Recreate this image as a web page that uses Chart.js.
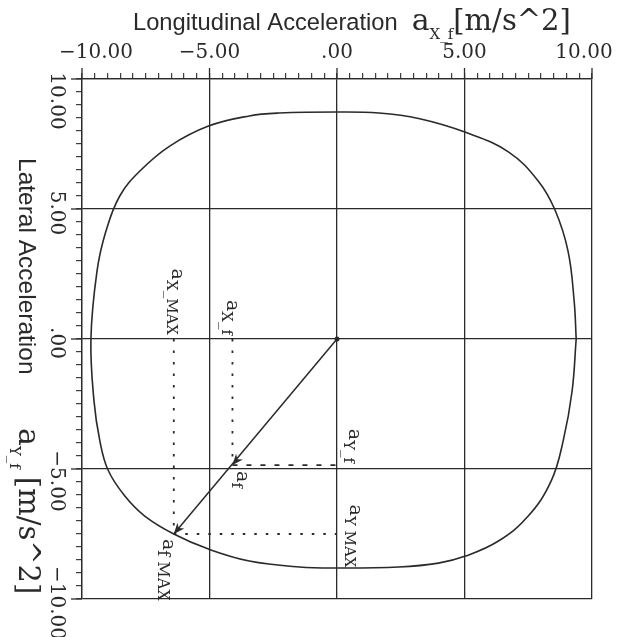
<!DOCTYPE html>
<html>
<head>
<meta charset="utf-8">
<script src="https://cdn.jsdelivr.net/npm/chart.js@4"></script>
<style>
  html, body { margin: 0; padding: 0; background: #ffffff; }
  #wrap { width: 627px; height: 637px; }
</style>
</head>
<body>
<div id="wrap"><canvas id="gg" width="627" height="637"></canvas></div>
<script>
// Axis ticks (labelled every 5 m/s^2, minor marks every 0.5)
const xTickValues = [-10, -5, 0, 5, 10];
const xTickLabels = ['\u221210.00', '\u22125.00', '.00', '5.00', '10.00'];
const yTickValues = [10, 5, 0, -5, -10];
const yTickLabels = ['10.00', '5.00', '.00', '\u22125.00', '\u221210.00'];

// Friction limit curve: longitudinal (x) and lateral (y) acceleration, m/s^2
const limitAx = [9.38, 9.30, 9.06, 8.55, 7.89, 6.72, 5.04, 3.20, 1.64, 0.00,
                 -2.27, -3.44, -5.04, -6.56, -7.73, -8.52, -9.06, -9.41, -9.65,
                 -9.53, -9.30, -8.98, -8.32, -7.54, -6.40, -5.04, -3.44, -1.48,
                 0.00, 2.42, 3.98, 5.04, 6.33, 7.50, 8.40, 8.87, 9.22, 9.38];
const limitAy = [0.00, 1.46, 3.38, 4.96, 6.08, 7.20, 7.95, 8.48, 8.69, 8.73,
                 8.69, 8.58, 8.19, 7.42, 6.46, 5.50, 4.15, 2.62, 0.00,
                 -2.38, -3.92, -5.04, -6.04, -6.81, -7.50, -8.08, -8.54, -8.77,
                 -8.81, -8.77, -8.62, -8.35, -7.77, -6.81, -5.46, -3.92, -2.00, 0.00];

// Acceleration vector a_f and its maximum a_f MAX on the limit curve
const accelF = [-4.1, -4.85];
const accelMax = [-6.4, -7.5];

const ink = '#2a2a2a';
const serif = '"DejaVu Serif", "Liberation Serif", serif';
const sans = '"Liberation Sans", Arial, sans-serif';

const limitPoints = limitAx.map((x, i) => ({ x, y: limitAy[i] }));

function isMajor(v) { return Math.abs(v / 5 - Math.round(v / 5)) < 1e-6; }

// Draws a run of text pieces (base text + subscripts), optionally rotated clockwise
function drawRich(ctx, parts, x, y, opts) {
  opts = opts || {};
  ctx.save();
  ctx.translate(x, y);
  if (opts.rotate) ctx.rotate(Math.PI / 2);
  ctx.fillStyle = opts.color || ink;
  ctx.textBaseline = 'alphabetic';
  ctx.textAlign = 'left';
  let total = 0;
  const widths = parts.map(p => { ctx.font = p.font; const w = ctx.measureText(p.t).width + (p.gap || 0); total += w; return w; });
  let cx = opts.align === 'center' ? -total / 2 : opts.align === 'right' ? -total : 0;
  parts.forEach((p, i) => {
    ctx.font = p.font;
    ctx.fillText(p.t, cx, p.dy || 0);
    cx += widths[i];
  });
  ctx.restore();
}

function arrowHead(ctx, fromPx, toPx, len, half) {
  const ang = Math.atan2(toPx.y - fromPx.y, toPx.x - fromPx.x);
  ctx.save();
  ctx.translate(toPx.x, toPx.y);
  ctx.rotate(ang);
  ctx.beginPath();
  ctx.moveTo(0, 0);
  ctx.lineTo(-len, -half);
  ctx.lineTo(-len * 0.7, 0);
  ctx.lineTo(-len, half);
  ctx.closePath();
  ctx.fillStyle = ink;
  ctx.fill();
  ctx.restore();
}

const annotate = {
  id: 'annotate',
  afterDraw(chart) {
    const ctx = chart.ctx;
    const xs = chart.scales.x, ys = chart.scales.y;
    const px = v => xs.getPixelForValue(v);
    const py = v => ys.getPixelForValue(v);
    const top = chart.chartArea.top, left = chart.chartArea.left;

    // longer major tick marks
    ctx.save();
    ctx.strokeStyle = ink;
    ctx.lineWidth = 1.3;
    xTickValues.forEach(v => { ctx.beginPath(); ctx.moveTo(px(v), top); ctx.lineTo(px(v), top - 11); ctx.stroke(); });
    yTickValues.forEach(v => { ctx.beginPath(); ctx.moveTo(left, py(v)); ctx.lineTo(left - 11, py(v)); ctx.stroke(); });
    ctx.restore();

    // x tick labels
    ctx.save();
    ctx.font = '20px ' + serif;
    ctx.fillStyle = ink;
    ctx.textBaseline = 'alphabetic';
    ctx.textAlign = 'center';
    xTickValues.forEach((v, i) => {
      let off = 0;
      if (i === 0) off = 14;
      if (i === xTickValues.length - 1) off = -8;
      ctx.fillText(xTickLabels[i], px(v) + off, 58);
    });
    ctx.restore();

    // y tick labels, rotated clockwise
    yTickValues.forEach((v, i) => {
      let off = 4;
      if (i === 0) off = 22;
      if (i === 3) off = 12;
      drawRich(ctx, [{ t: yTickLabels[i], font: '20px ' + serif }], 51, py(v) + off, { rotate: true, align: 'center' });
    });

    // axis titles
    drawRich(ctx, [
      { t: 'Longitudinal Acceleration', font: '23.7px ' + sans, gap: 14 },
      { t: 'a', font: '30px ' + serif },
      { t: 'X_f', font: '15px ' + serif, dy: 9 },
      { t: '[m/s^2]', font: '29px ' + serif }
    ], 133, 30);

    drawRich(ctx, [{ t: 'Lateral Acceleration', font: '24.5px ' + sans }], 19, 158, { rotate: true });
    drawRich(ctx, [
      { t: 'a', font: '30px ' + serif },
      { t: 'Y_f', font: '15px ' + serif, dy: 9, gap: 8 },
      { t: '[m/s^2]', font: '29px ' + serif }
    ], 19, 428, { rotate: true });

    // vector labels
    const aF = { x: px(accelF[0]), y: py(accelF[1]) };
    const aM = { x: px(accelMax[0]), y: py(accelMax[1]) };
    const o = { x: px(0), y: py(0) };
    const big = '19px ' + serif, small = '15px ' + serif, smallWide = '16px ' + serif;
    drawRich(ctx, [{ t: 'a', font: big }, { t: 'X_MAX', font: small, dy: 5 }], aM.x - 2, o.y - 4, { rotate: true, align: 'right' });
    drawRich(ctx, [{ t: 'a', font: big }, { t: 'X_f', font: small, dy: 5 }], aF.x - 5, o.y - 4, { rotate: true, align: 'right' });
    drawRich(ctx, [{ t: 'a', font: big }, { t: 'Y_f', font: small, dy: 5 }], o.x + 12, aF.y - 2, { rotate: true, align: 'right' });
    drawRich(ctx, [{ t: 'a', font: big }, { t: 'Y MAX', font: small, dy: 5 }], o.x + 13, aM.y + 2, { rotate: true, align: 'center' });
    drawRich(ctx, [{ t: 'a', font: big }, { t: 'f', font: small, dy: 5 }], aF.x + 5, aF.y + 6, { rotate: true });
    drawRich(ctx, [{ t: 'a', font: big }, { t: 'f MAX', font: smallWide, dy: 5 }], aM.x - 11, aM.y + 5, { rotate: true });

    // arrowheads and origin dot
    arrowHead(ctx, o, aF, 11, 4.5);
    arrowHead(ctx, o, aM, 11, 4.5);
    ctx.save();
    ctx.fillStyle = ink;
    ctx.beginPath(); ctx.arc(o.x, o.y, 2.5, 0, Math.PI * 2); ctx.fill();
    ctx.restore();
  }
};

const dotted = { showLine: true, borderColor: ink, borderWidth: 1.8, borderDash: [2.5, 9], pointRadius: 0, fill: false };

new Chart(document.getElementById('gg'), {
  type: 'scatter',
  data: {
    datasets: [
      { data: limitPoints, showLine: true, borderColor: ink, borderWidth: 1.6, pointRadius: 0, tension: 0.4, fill: false },
      { data: [{ x: 0, y: 0 }, { x: accelMax[0], y: accelMax[1] }], showLine: true, borderColor: ink, borderWidth: 1.5, pointRadius: 0 },
      Object.assign({ data: [{ x: accelF[0], y: 0 }, { x: accelF[0], y: accelF[1] }] }, dotted),
      Object.assign({ data: [{ x: accelF[0], y: accelF[1] }, { x: 0, y: accelF[1] }] }, dotted, { borderDash: [5, 9] }),
      Object.assign({ data: [{ x: accelMax[0], y: 0 }, { x: accelMax[0], y: accelMax[1] }] }, dotted),
      Object.assign({ data: [{ x: accelMax[0], y: accelMax[1] }, { x: 0, y: accelMax[1] }] }, dotted)
    ]
  },
  options: {
    responsive: false,
    animation: false,
    layout: { padding: { left: 0, top: 0, right: 35, bottom: 38 } },
    plugins: { legend: { display: false }, tooltip: { enabled: false } },
    scales: {
      x: {
        type: 'linear', position: 'top', min: -10, max: 10,
        ticks: { stepSize: 0.5, display: false },
        grid: {
          color: c => isMajor(c.tick.value) ? ink : 'rgba(0,0,0,0)',
          lineWidth: 1.3, drawTicks: true, tickLength: 6, tickColor: ink, tickWidth: 1.1
        },
        border: { display: true, color: ink, width: 1.3 },
        afterFit(s) { s.height = 79; }
      },
      y: {
        type: 'linear', position: 'left', min: -10, max: 10,
        ticks: { stepSize: 0.5, display: false },
        grid: {
          color: c => isMajor(c.tick.value) ? ink : 'rgba(0,0,0,0)',
          lineWidth: 1.3, drawTicks: true, tickLength: 6, tickColor: ink, tickWidth: 1.1
        },
        border: { display: true, color: ink, width: 1.3 },
        afterFit(s) { s.width = 82; }
      }
    }
  },
  plugins: [annotate]
});
</script>
</body>
</html>
